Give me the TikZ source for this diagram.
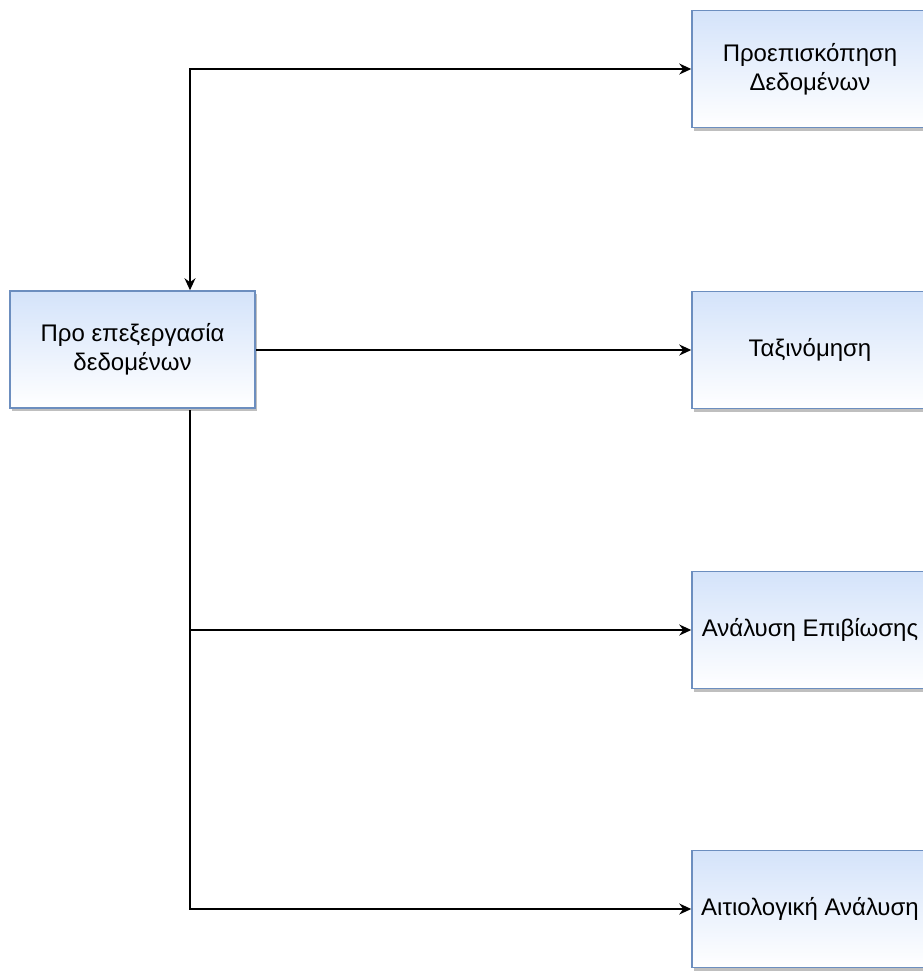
\documentclass[tikz,border=0pt]{standalone}
\usepackage{fontspec}
\setmainfont{Liberation Sans}
\usetikzlibrary{arrows.meta,positioning,shadows}
\definecolor{boxline}{HTML}{6C8EBF}
\definecolor{boxtop}{HTML}{D4E3FA}
\tikzset{
    stage/.style={rectangle,draw=boxline,line width=1.5pt,
        top color=boxtop,bottom color=white,
        drop shadow={shadow xshift=2pt,shadow yshift=-3pt,fill=black!50},
        minimum width=245pt,minimum height=117pt,inner sep=0pt,
        align=center,font=\fontsize{24}{29}\selectfont},
    flow/.style={-{Stealth[length=12pt,width=11pt]},line width=1.4pt},
    both/.style={{Stealth[length=12pt,width=11pt]}-{Stealth[length=12pt,width=11pt]},line width=1.4pt}
}

\begin{document}
\begin{tikzpicture}[x=1pt,y=-1pt]
    \useasboundingbox (0,0) rectangle (923,972);
    \clip (0,0) rectangle (923,972);

    % preprocessing on the left
    \node[stage] (prep) at (132.5,349.5) {Προ επεξεργασία\\δεδομένων};

    % the four tasks on the right
    \node[stage,minimum width=236pt] (preview)  at (810,69)  {Προεπισκόπηση\\Δεδομένων};
    \node[stage,minimum width=236pt] (classify) at (810,350) {Ταξινόμηση};
    \node[stage,minimum width=236pt] (survival) at (810,630) {Ανάλυση Επιβίωσης};
    \node[stage,minimum width=236pt] (causal)   at (810,909) {Αιτιολογική Ανάλυση};

    \coordinate (split) at (190,410);

    \draw[both] (prep.north -| split) |- (preview.west);
    \draw[flow] (prep.east |- classify.west) -- (classify.west);
    \draw[flow] (split) |- (survival.west);
    \draw[flow] (split) |- (causal.west);

\end{tikzpicture}
\end{document}
